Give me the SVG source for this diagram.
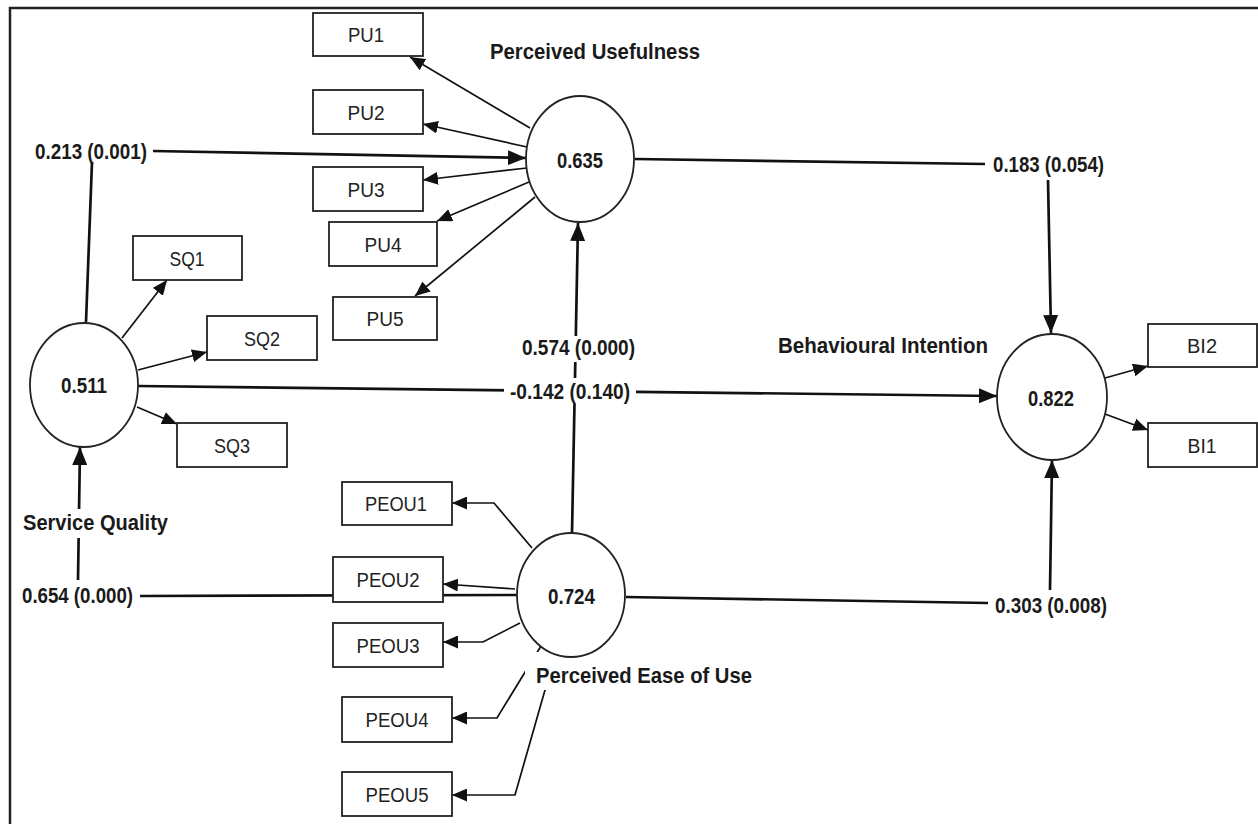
<svg xmlns="http://www.w3.org/2000/svg" width="1258" height="824" viewBox="0 0 1258 824">
<style>
.frame{fill:none;stroke:#222;stroke-width:2.5}
.ind{fill:none;stroke:#111;stroke-width:1.7}
.str{fill:none;stroke:#111;stroke-width:2.7}
.box{fill:#fff;stroke:#222;stroke-width:1.8}
.lv{fill:#fff;stroke:#222;stroke-width:1.8}
.bg{fill:#fff;stroke:none}
.bt{font-family:"Liberation Sans Narrow","Liberation Sans",Arial,sans-serif;font-size:20px;fill:#222;text-anchor:middle}
.lb{font-family:"Liberation Sans Narrow","Liberation Sans",Arial,sans-serif;font-weight:bold;font-size:21.5px;fill:#1a1a1a}
.hd{font-family:"Liberation Sans Narrow","Liberation Sans",Arial,sans-serif;font-weight:bold;font-size:22.5px;fill:#1a1a1a}
</style>
<defs>
<marker id="ai" markerUnits="userSpaceOnUse" markerWidth="15" markerHeight="13" refX="15" refY="6.5" orient="auto"><path d="M0,0 L15,6.5 L0,13 z" fill="#111"/></marker>
<marker id="as" markerUnits="userSpaceOnUse" markerWidth="18" markerHeight="15" refX="18" refY="7.5" orient="auto"><path d="M0,0 L18,7.5 L0,15 z" fill="#111"/></marker>
</defs>
<rect width="1258" height="824" fill="#fff"/>
<path class="frame" d="M10,830 V8 H1262"/>

<g id="connectors">
<path class="str" d="M86,322 L92,162 M153,151 L526,158" marker-end="url(#as)"/>
<path class="str" d="M635,159 L985,164 M1048,180 L1051,333" marker-end="url(#as)"/>
<path class="str" d="M626,597 L988,603 M1050,590 L1052,460" marker-end="url(#as)"/>
<path class="str" d="M138,386 L997,396" marker-end="url(#as)"/>
<path class="str" d="M572,533 L578,223" marker-end="url(#as)"/>
<path class="str" d="M517,595 L140,596 M78,580 L80,447" marker-end="url(#as)"/>
<path class="ind" d="M530,128 L410,57" marker-end="url(#ai)"/>
<path class="ind" d="M527,147 L423,124" marker-end="url(#ai)"/>
<path class="ind" d="M527,168 L423,180" marker-end="url(#ai)"/>
<path class="ind" d="M529,182 L437,221" marker-end="url(#ai)"/>
<path class="ind" d="M535,197 L415,296" marker-end="url(#ai)"/>
<path class="ind" d="M122,338 L167,280" marker-end="url(#ai)"/>
<path class="ind" d="M138,370 L207,352" marker-end="url(#ai)"/>
<path class="ind" d="M137,407 L177,424" marker-end="url(#ai)"/>
<path class="ind" d="M1105,378 L1148,366" marker-end="url(#ai)"/>
<path class="ind" d="M1105,414 L1148,430" marker-end="url(#ai)"/>
<path class="ind" d="M532,548 L494,503 L452,503" marker-end="url(#ai)"/>
<path class="ind" d="M515,589 L443,584" marker-end="url(#ai)"/>
<path class="ind" d="M520,623 L483,642 L443,642" marker-end="url(#ai)"/>
<path class="ind" d="M541,646 L497,718 L452,718" marker-end="url(#ai)"/>
<path class="ind" d="M555,655 L515,795 L452,795" marker-end="url(#ai)"/>
</g>

<g id="label-backgrounds">
<rect class="bg" x="504" y="378" width="132" height="26"/>
<rect class="bg" x="518" y="336" width="122" height="26"/>
<rect class="bg" x="20" y="509" width="152" height="29"/>
<rect class="bg" x="525" y="652" width="232" height="38"/>
</g>

<g id="SQ">
<ellipse class="lv" cx="84" cy="385" rx="54" ry="62"/>
<text class="lb" x="61" y="393" textLength="46" lengthAdjust="spacingAndGlyphs">0.511</text>
<text class="hd" x="23" y="530" textLength="145" lengthAdjust="spacingAndGlyphs">Service Quality</text>
</g>
<g id="PU">
<ellipse class="lv" cx="580" cy="159" rx="54" ry="63"/>
<text class="lb" x="557" y="168" textLength="46" lengthAdjust="spacingAndGlyphs">0.635</text>
<text class="hd" x="490" y="59" textLength="210" lengthAdjust="spacingAndGlyphs">Perceived Usefulness</text>
</g>
<g id="PEOU">
<ellipse class="lv" cx="571" cy="595" rx="54" ry="62"/>
<text class="lb" x="548" y="604" textLength="47" lengthAdjust="spacingAndGlyphs">0.724</text>
<text class="hd" x="536" y="683" textLength="216" lengthAdjust="spacingAndGlyphs">Perceived Ease of Use</text>
</g>
<g id="BI">
<ellipse class="lv" cx="1052" cy="397" rx="55" ry="63"/>
<text class="lb" x="1028" y="406" textLength="46" lengthAdjust="spacingAndGlyphs">0.822</text>
<text class="hd" x="778" y="353" textLength="210" lengthAdjust="spacingAndGlyphs">Behavioural Intention</text>
</g>

<g id="PU1"><rect class="box" x="313" y="13" width="110" height="43"/><text class="bt" x="366" y="42" textLength="36" lengthAdjust="spacingAndGlyphs">PU1</text></g>
<g id="PU2"><rect class="box" x="313" y="90" width="110" height="44"/><text class="bt" x="366" y="120" textLength="37" lengthAdjust="spacingAndGlyphs">PU2</text></g>
<g id="PU3"><rect class="box" x="313" y="167" width="110" height="44"/><text class="bt" x="366" y="197" textLength="37" lengthAdjust="spacingAndGlyphs">PU3</text></g>
<g id="PU4"><rect class="box" x="329" y="222" width="108" height="44"/><text class="bt" x="383" y="252" textLength="37" lengthAdjust="spacingAndGlyphs">PU4</text></g>
<g id="PU5"><rect class="box" x="333" y="297" width="104" height="43"/><text class="bt" x="385" y="326" textLength="37" lengthAdjust="spacingAndGlyphs">PU5</text></g>
<g id="SQ1"><rect class="box" x="133" y="236" width="109" height="44"/><text class="bt" x="187" y="266" textLength="35" lengthAdjust="spacingAndGlyphs">SQ1</text></g>
<g id="SQ2"><rect class="box" x="207" y="316" width="110" height="44"/><text class="bt" x="262" y="346" textLength="36" lengthAdjust="spacingAndGlyphs">SQ2</text></g>
<g id="SQ3"><rect class="box" x="177" y="423" width="110" height="44"/><text class="bt" x="232" y="453" textLength="36" lengthAdjust="spacingAndGlyphs">SQ3</text></g>
<g id="PEOU1"><rect class="box" x="342" y="482" width="110" height="43"/><text class="bt" x="396" y="511" textLength="62" lengthAdjust="spacingAndGlyphs">PEOU1</text></g>
<g id="PEOU2"><rect class="box" x="333" y="557" width="110" height="45"/><text class="bt" x="388" y="587" textLength="63" lengthAdjust="spacingAndGlyphs">PEOU2</text></g>
<g id="PEOU3"><rect class="box" x="333" y="623" width="110" height="44"/><text class="bt" x="388" y="653" textLength="63" lengthAdjust="spacingAndGlyphs">PEOU3</text></g>
<g id="PEOU4"><rect class="box" x="342" y="697" width="110" height="45"/><text class="bt" x="397" y="727" textLength="63" lengthAdjust="spacingAndGlyphs">PEOU4</text></g>
<g id="PEOU5"><rect class="box" x="342" y="772" width="110" height="44"/><text class="bt" x="397" y="802" textLength="63" lengthAdjust="spacingAndGlyphs">PEOU5</text></g>
<g id="BI2"><rect class="box" x="1148" y="324" width="109" height="43"/><text class="bt" x="1202" y="353" textLength="30" lengthAdjust="spacingAndGlyphs">BI2</text></g>
<g id="BI1"><rect class="box" x="1148" y="423" width="109" height="44"/><text class="bt" x="1202" y="453" textLength="29" lengthAdjust="spacingAndGlyphs">BI1</text></g>

<g id="path-labels">
<text class="lb" x="35" y="159" textLength="112" lengthAdjust="spacingAndGlyphs">0.213 (0.001)</text>
<text class="lb" x="993" y="172" textLength="111" lengthAdjust="spacingAndGlyphs">0.183 (0.054)</text>
<text class="lb" x="995" y="613" textLength="112" lengthAdjust="spacingAndGlyphs">0.303 (0.008)</text>
<text class="lb" x="510" y="399" textLength="120" lengthAdjust="spacingAndGlyphs">-0.142 (0.140)</text>
<text class="lb" x="522" y="355" textLength="113" lengthAdjust="spacingAndGlyphs">0.574 (0.000)</text>
<text class="lb" x="22" y="603" textLength="111" lengthAdjust="spacingAndGlyphs">0.654 (0.000)</text>
</g>
</svg>
